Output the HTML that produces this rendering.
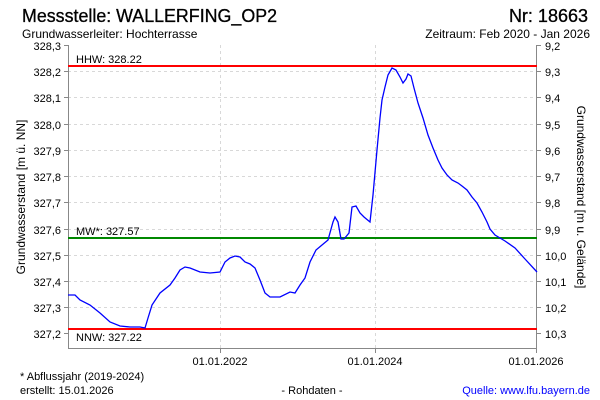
<!DOCTYPE html>
<html><head><meta charset="utf-8"><style>
body{margin:0;background:#fff;}
svg{display:block;font-family:"Liberation Sans",sans-serif;}
</style></head><body>
<svg width="600" height="400" viewBox="0 0 600 400" xmlns="http://www.w3.org/2000/svg">
<text x="22" y="22" font-size="18" fill="#000" textLength="255" lengthAdjust="spacingAndGlyphs" stroke="#000" stroke-width="0.3">Messstelle: WALLERFING_OP2</text>
<text x="588" y="22" font-size="18" fill="#000" text-anchor="end" stroke="#000" stroke-width="0.3">Nr: 18663</text>
<text x="22" y="38" font-size="12" fill="#000">Grundwasserleiter:  Hochterrasse</text>
<text x="590" y="38" font-size="12" fill="#000" text-anchor="end">Zeitraum: Feb 2020 - Jan 2026</text>
<g stroke="#d8d8d8" stroke-dasharray="3,3" stroke-width="1">
<line x1="68" y1="71.5" x2="537" y2="71.5"/><line x1="68" y1="97.5" x2="537" y2="97.5"/>
<line x1="68" y1="124.5" x2="537" y2="124.5"/><line x1="68" y1="150.5" x2="537" y2="150.5"/>
<line x1="68" y1="176.5" x2="537" y2="176.5"/><line x1="68" y1="202.5" x2="537" y2="202.5"/>
<line x1="68" y1="229.5" x2="537" y2="229.5"/><line x1="68" y1="255.5" x2="537" y2="255.5"/>
<line x1="68" y1="281.5" x2="537" y2="281.5"/><line x1="68" y1="307.5" x2="537" y2="307.5"/>
<line x1="220.5" y1="45" x2="220.5" y2="349"/><line x1="375.5" y1="45" x2="375.5" y2="349"/>
</g>
<g stroke="#888" stroke-width="1" fill="none">
<line x1="68.5" y1="45" x2="68.5" y2="349"/><line x1="536.5" y1="45" x2="536.5" y2="349"/>
<line x1="68" y1="348.5" x2="537" y2="348.5"/>
<path d="M64 45.5h4M64 71.5h4M64 97.5h4M64 124.5h4M64 150.5h4M64 176.5h4M64 202.5h4M64 229.5h4M64 255.5h4M64 281.5h4M64 307.5h4M64 333.5h4"/>
<path d="M537 45.5h4M537 71.5h4M537 97.5h4M537 124.5h4M537 150.5h4M537 176.5h4M537 202.5h4M537 229.5h4M537 255.5h4M537 281.5h4M537 307.5h4M537 333.5h4"/>
<path d="M220.5 349v4M375.5 349v4M536.5 349v4"/>
</g>
<g font-size="11" fill="#000" text-anchor="end">
<text x="61" y="50">328,3</text><text x="61" y="76">328,2</text><text x="61" y="102">328,1</text>
<text x="61" y="129">328,0</text><text x="61" y="155">327,9</text><text x="61" y="181">327,8</text>
<text x="61" y="207">327,7</text><text x="61" y="234">327,6</text><text x="61" y="260">327,5</text>
<text x="61" y="286">327,4</text><text x="61" y="312">327,3</text><text x="61" y="338">327,2</text>
</g>
<g font-size="11" fill="#000">
<text x="545" y="50">9,2</text><text x="545" y="76">9,3</text><text x="545" y="102">9,4</text>
<text x="545" y="129">9,5</text><text x="545" y="155">9,6</text><text x="545" y="181">9,7</text>
<text x="545" y="207">9,8</text><text x="545" y="234">9,9</text><text x="545" y="260">10,0</text>
<text x="545" y="286">10,1</text><text x="545" y="312">10,2</text><text x="545" y="338">10,3</text>
</g>
<g font-size="11" fill="#000" text-anchor="middle">
<text x="220" y="365">01.01.2022</text><text x="375" y="365">01.01.2024</text><text x="536" y="365">01.01.2026</text>
</g>
<text transform="translate(25,197) rotate(-90)" font-size="12" text-anchor="middle">Grundwasserstand [m ü. NN]</text>
<text transform="translate(577,197) rotate(90)" font-size="12" text-anchor="middle">Grundwasserstand [m u. Gelände]</text>
<line x1="68" y1="66" x2="537" y2="66" stroke="#f00" stroke-width="2"/>
<line x1="68" y1="238" x2="537" y2="238" stroke="#080" stroke-width="2"/>
<line x1="68" y1="329" x2="537" y2="329" stroke="#f00" stroke-width="2"/>
<g font-size="11" fill="#000">
<text x="76" y="63">HHW: 328.22</text><text x="76" y="235">MW*: 327.57</text><text x="76" y="341">NNW: 327.22</text>
</g>
<polyline fill="none" stroke="#00f" stroke-width="1.3" points="68,295 75,295 80,300 90,305 100,313 110,322 120,326 130,327 140,327 145,328 148,318 152,305 160,293 170,285 175,278 180,270 185,267 190,268 200,272 210,273 220,272 225,262 230,258 235,256 240,257 245,262 250,264 255,268 260,280 265,293 270,297 280,297 290,292 295,293 300,285 305,278 310,262 316,250 322,245 328,240 333,222 335,217 338,222 341,239 344,239 349,233 352,207 356,206 360,213 364,217 370,222 373,195 377,150 380,118 382,100 385,87 388,75 392,68 396,70 400,77 403,83 406,79 408,74 411,76 414,88 418,103 423,118 428,135 433,148 438,160 442,168 447,175 452,180 458,183 462,186 467,190 472,197 477,203 482,212 487,222 490,229 495,235 505,241 515,248 525,259 537,272"/>
<text x="20" y="380" font-size="11">* Abflussjahr (2019-2024)</text>
<text x="20" y="394" font-size="11">erstellt:  15.01.2026</text>
<text x="312" y="394" font-size="11" text-anchor="middle">- Rohdaten -</text>
<text x="590" y="394" font-size="11" fill="#00f" text-anchor="end">Quelle: www.lfu.bayern.de</text>
</svg>
</body></html>
